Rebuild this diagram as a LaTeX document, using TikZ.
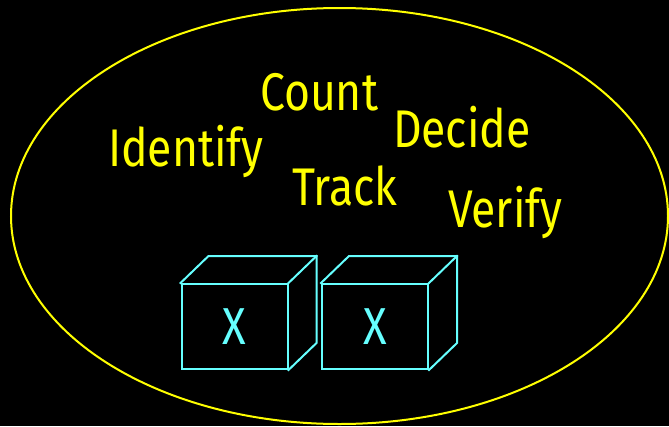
\documentclass[tikz,border=0pt]{standalone}
\usepackage{fontspec}
\setmainfont{Fira Sans}[FakeStretch=0.84]
\usepackage{tikz}
\begin{document}
\begin{tikzpicture}[x=1pt,y=-1pt,line cap=rect,
    word/.style={inner sep=0, outer sep=0, custcol_ff_ff_0, anchor=base west, font=\fontsize{53pt}{53pt}\selectfont},
    crate/.style={draw=custcol_66_ff_ff, line width=2.0pt, minimum width=106, minimum height=85, inner sep=0, text=custcol_66_ff_ff, font=\fontsize{52pt}{52pt}\selectfont}]
				\definecolor{custcol_ff_ff_0}{RGB}{255, 255, 0}
				\definecolor{custcol_66_ff_ff}{RGB}{102, 255, 255}
				\definecolor{custcol_0_0_0}{RGB}{0, 0, 0}
				\fill [custcol_0_0_0] (0,0) rectangle (669,426);
				\useasboundingbox (0,0) rectangle (669,426);
				\draw [line width=2.0pt, custcol_ff_ff_0] (339.5,216.0) ellipse (328.5 and 208.0);
				\node[word] (count) at (260.0,110.0) {Count};
				\node[word] (identify) at (108.0,166.0) {Identify};
				\node[word] (decide) at (393.0,147.0) {Decide};
				\node[word] (track) at (292.0,205.0) {Track};
				\node[word] (verify) at (448.0,227.0) {Verify};
				\node[crate] (boxA) at (234.5,326.5) {X};
				\node[crate] (boxB) at (375.0,326.5) {X};
				\draw [line width=2.0pt, custcol_66_ff_ff] (boxA.north west) -- ++(28,-27) -| ([xshift=28,yshift=27]boxA.south east) -- (boxA.south east);
				\draw [line width=2.0pt, custcol_66_ff_ff] (boxA.north east) -- ++(28,-27);
				\draw [line width=2.0pt, custcol_66_ff_ff] (boxB.north west) -- ++(28,-27) -| ([xshift=28,yshift=27]boxB.south east) -- (boxB.south east);
				\draw [line width=2.0pt, custcol_66_ff_ff] (boxB.north east) -- ++(28,-27);
			\end{tikzpicture}
\end{document}
